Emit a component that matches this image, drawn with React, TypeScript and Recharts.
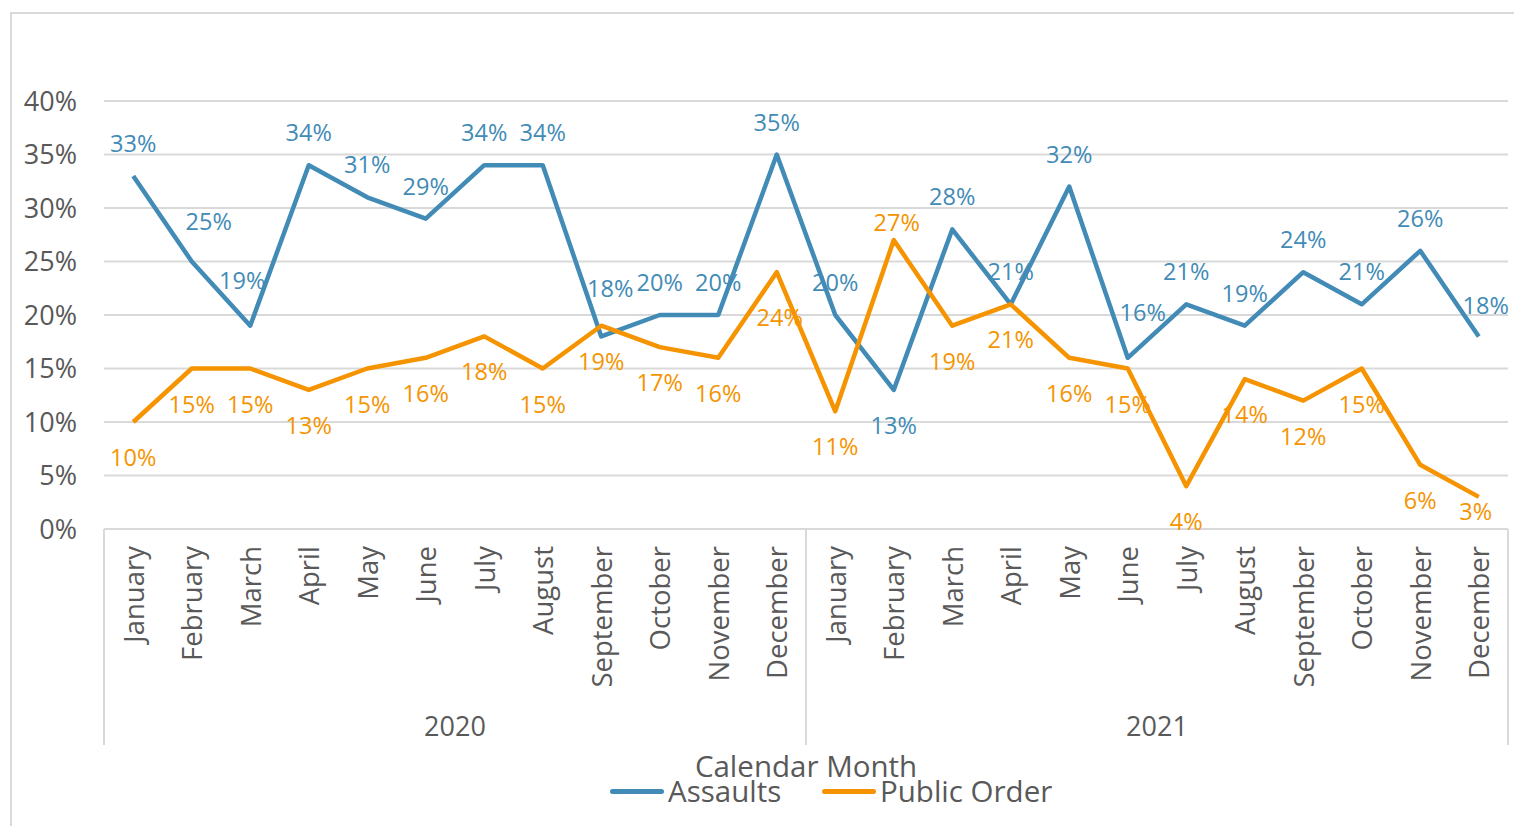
import { LineChart, Line, XAxis, YAxis, CartesianGrid, Legend, LabelList } from 'recharts';

const MONTHS = ['January', 'February', 'March', 'April', 'May', 'June', 'July', 'August', 'September', 'October', 'November', 'December'];
const YEARS = ['2020', '2021'];
const ASSAULTS = [33, 25, 19, 34, 31, 29, 34, 34, 18, 20, 20, 35, 20, 13, 28, 21, 32, 16, 21, 19, 24, 21, 26, 18];
const PUBLIC_ORDER = [10, 15, 15, 13, 15, 16, 18, 15, 19, 17, 16, 24, 11, 27, 19, 21, 16, 15, 4, 14, 12, 15, 6, 3];
const Y_TICKS = [0, 5, 10, 15, 20, 25, 30, 35, 40];

const data = YEARS.flatMap((year, yi) =>
  MONTHS.map((month, mi) => ({
    key: `${year}-${month}`,
    month,
    year,
    assaults: ASSAULTS[yi * 12 + mi],
    publicOrder: PUBLIC_ORDER[yi * 12 + mi],
  }))
);

const FONT = '"Open Sans", "Noto Sans", sans-serif';
const TEXT = '#595959';
const GRID = '#d9d9d9';
const BLUE = '#428bb6';
const ORANGE = '#f59400';

const W = 1514;
const H = 826;
const PLOT_LEFT = 104;
const PLOT_RIGHT = 1508;
const PLOT_BOTTOM = 529;
const BAND = (PLOT_RIGHT - PLOT_LEFT) / data.length;

// small label nudges (excel moved a few labels off their default spot)
const ASSAULT_NUDGE: Record<number, [number, number]> = {
  1: [17, -8], 2: [-8, -13], 8: [9, -15], 17: [15, -13], 23: [7, 2],
};
const ORDER_NUDGE: Record<number, [number, number]> = {
  11: [3, 10], 13: [3, 15], 23: [-3, -21],
};

function MonthTick(props: any) {
  const { x, index, payload } = props;
  const y = PLOT_BOTTOM + 17;
  const month = data[index]?.month ?? payload.value;
  const year = data[index]?.year;
  const first = index % 12 === 0;
  return (
    <g>
      <text
        x={x}
        y={y}
        transform={`rotate(-90 ${x} ${y})`}
        textAnchor="end"
        dominantBaseline="central"
        fill={TEXT}
        fontSize={27.5}
        fontFamily={FONT}
      >
        {month}
      </text>
      {first && (
        <>
          <line x1={x - BAND / 2} x2={x - BAND / 2} y1={PLOT_BOTTOM} y2={745} stroke={GRID} strokeWidth={2} />
          <text x={x + 5.5 * BAND} y={725} textAnchor="middle" dominantBaseline="central" fill={TEXT} fontSize={27} fontFamily={FONT}>
            {year}
          </text>
        </>
      )}
      {index === data.length - 1 && (
        <line x1={x + BAND / 2} x2={x + BAND / 2} y1={PLOT_BOTTOM} y2={745} stroke={GRID} strokeWidth={2} />
      )}
    </g>
  );
}

function makeLabel(own: number[], other: number[], color: string, above: boolean, nudge: Record<number, [number, number]>) {
  return (props: any) => {
    const { x, y, index } = props;
    const v = own[index];
    const flip = above ? other[index] - v > 5 : v - other[index] > 5;
    const up = flip ? !above : above;
    const [dx, dy] = nudge[index] ?? [0, 0];
    return (
      <text
        x={x + dx}
        y={(up ? y - 33 : y + 35) + dy}
        textAnchor="middle"
        dominantBaseline="central"
        fill={color}
        fontSize={23.5}
        fontFamily={FONT}
      >
        {`${v}%`}
      </text>
    );
  };
}

function LegendBox() {
  const item = (left: number, color: string, label: string) => (
    <div style={{ position: 'absolute', left, top: 40, display: 'flex', alignItems: 'center', height: 30 }}>
      <div style={{ width: 54, height: 5, borderRadius: 3, background: color, marginRight: 4 }} />
      <span style={{ fontSize: 29.5, color: TEXT, lineHeight: '30px' }}>{label}</span>
    </div>
  );
  return (
    <div style={{ position: 'relative', height: 90, width: W, fontFamily: FONT }}>
      <div
        style={{
          position: 'absolute',
          left: (PLOT_LEFT + PLOT_RIGHT) / 2,
          top: 15,
          transform: 'translateX(-50%)',
          fontSize: 29.5,
          lineHeight: '30px',
          color: TEXT,
          whiteSpace: 'nowrap',
        }}
      >
        Calendar Month
      </div>
      {item(610, BLUE, 'Assaults')}
      {item(822, ORANGE, 'Public Order')}
    </div>
  );
}

export default function App() {
  return (
    <div style={{ position: 'absolute', left: 0, top: 0, width: W, height: H, background: '#fff', overflow: 'hidden' }}>
      <div
        style={{
          position: 'absolute',
          left: 10,
          top: 12,
          width: W,
          height: H,
          borderTop: `2px solid ${GRID}`,
          borderLeft: `2px solid ${GRID}`,
        }}
      />
      <LineChart
        width={W}
        height={H}
        data={data}
        margin={{ top: 101, right: W - PLOT_RIGHT, bottom: 0, left: 0 }}
        style={{ position: 'absolute', left: 0, top: 0 }}
      >
        <CartesianGrid vertical={false} stroke={GRID} strokeWidth={2} />
        <XAxis
          dataKey="key"
          interval={0}
          height={H - 90 - PLOT_BOTTOM}
          tickLine={false}
          tickSize={0}
          tickMargin={0}
          axisLine={{ stroke: GRID, strokeWidth: 2 }}
          padding={{ left: BAND / 2, right: BAND / 2 }}
          tick={<MonthTick />}
        />
        <YAxis
          width={PLOT_LEFT}
          domain={[0, 40]}
          ticks={Y_TICKS}
          tickFormatter={(v: number) => `${v}%`}
          axisLine={false}
          tickLine={false}
          tickSize={0}
          tickMargin={27}
          tick={{ fill: TEXT, fontSize: 27, fontFamily: FONT }}
        />
        <Line
          dataKey="assaults"
          stroke={BLUE}
          strokeWidth={4.5}
          dot={false}
          isAnimationActive={false}
          strokeLinejoin="round"
        >
          <LabelList dataKey="assaults" content={makeLabel(ASSAULTS, PUBLIC_ORDER, BLUE, true, ASSAULT_NUDGE)} />
        </Line>
        <Line
          dataKey="publicOrder"
          stroke={ORANGE}
          strokeWidth={4.5}
          dot={false}
          isAnimationActive={false}
          strokeLinejoin="round"
        >
          <LabelList dataKey="publicOrder" content={makeLabel(PUBLIC_ORDER, ASSAULTS, ORANGE, false, ORDER_NUDGE)} />
        </Line>
        <Legend
          verticalAlign="bottom"
          content={<LegendBox />}
          wrapperStyle={{ left: 0, width: W, bottom: 0 }}
        />
      </LineChart>
    </div>
  );
}
